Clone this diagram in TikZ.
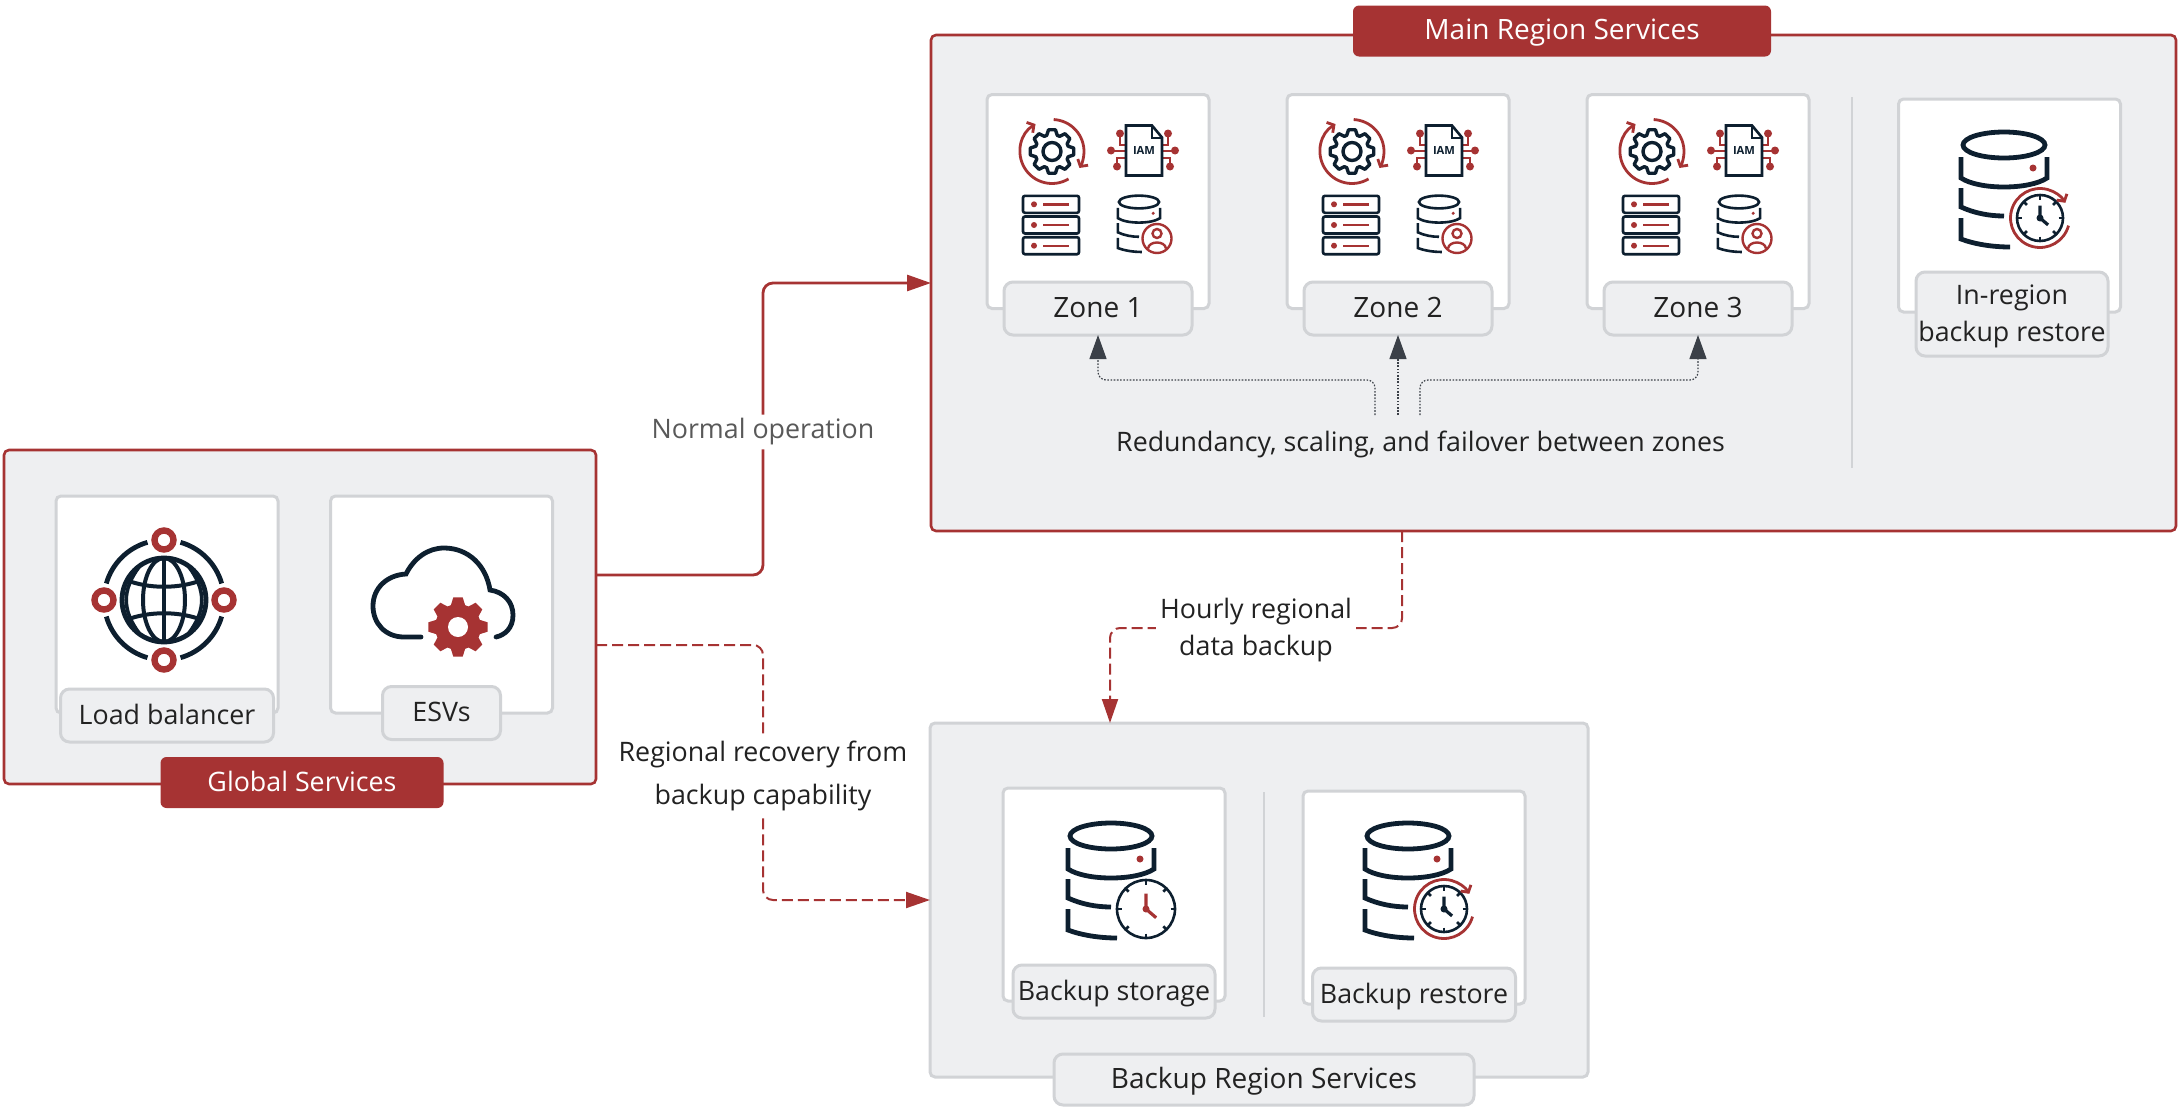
\documentclass[tikz,border=0pt]{standalone}
\usepackage{fontspec}
\setmainfont{Open Sans}
\usetikzlibrary{positioning,arrows.meta}
\definecolor{brick}{HTML}{A63333}
\definecolor{navy}{HTML}{0D1F2F}
\definecolor{panel}{HTML}{EEEFF1}
\definecolor{edgegrey}{HTML}{D1D3D6}
\definecolor{slate}{HTML}{3B4048}
\definecolor{ink}{HTML}{222222}
\newcommand{\lab}{\fontsize{13.4}{18.5}\selectfont}
\newcommand{\biglab}{\fontsize{14}{18.5}\selectfont}
% gear outline: root radius, tip radius
\newcommand{\gearteeth}[2]{(-18:#1) \foreach \a in {0,45,...,315} { -- (\a-18:#1) -- (\a-9:#2) -- (\a+9:#2) -- (\a+18:#1)} -- cycle}
\tikzset{
 every node/.style={outer sep=0pt,inner sep=0pt,text=ink,font=\lab},
 regionbox/.style={draw=brick,fill=panel,line width=1.3pt,rounded corners=2.5pt},
 backupbox/.style={draw=edgegrey,fill=panel,line width=1.5pt,rounded corners=2.5pt},
 card/.style={draw=edgegrey,fill=white,line width=1.5pt,rounded corners=2.5pt,minimum width=111pt,minimum height=107pt},
 tag/.style={draw=edgegrey,fill=panel,line width=1.5pt,rounded corners=4.5pt,minimum height=26.5pt,align=center},
 oneline/.style={text height=11pt,text depth=2.4pt},
 redtag/.style={fill=brick,rounded corners=3pt,minimum height=25.5pt,text=white,text height=11pt,text depth=2.4pt},
 divider/.style={fill=edgegrey,minimum width=1.3pt},
 edgelab/.style={fill=white,align=center,inner sep=2pt},
 redline/.style={draw=brick,line width=1.4pt,rounded corners=5pt,-{Triangle[length=12pt,width=8pt]}},
 reddash/.style={redline,line width=1pt,dash pattern=on 5.5pt off 2.5pt},
 dotline/.style={draw=slate,line width=.6pt,dash pattern=on .8pt off .8pt,rounded corners=4pt,-{Triangle[length=12pt,width=8.5pt]}},
 turnarc/.style={draw=brick,line width=1.4pt,-{Straight Barb[length=2.5pt,width=6pt]}},
 pics/gearicon/.style={code={
  \draw[navy,line width=1.7pt,line join=round] \gearteeth{17}{22};
  \draw[navy,line width=1.7pt] (0,0) circle (9);
  \draw[turnarc] (-87:32) arc[start angle=-87,end angle=31,radius=32];
  \draw[turnarc] (59:32) arc[start angle=59,end angle=239,radius=32];
 }},
 pics/iamicon/.style={code={
  \draw[brick,line width=1pt] (-24,-17) -- (-24,-6) -- (-18,-6);
  \draw[brick,line width=1pt] (-33,0) -- (-18,0);
  \draw[brick,line width=1pt] (-27,16) -- (-27,7) -- (-18,7);
  \draw[brick,line width=1pt] (24,-17) -- (24,-6) -- (18,-6);
  \draw[brick,line width=1pt] (31,0) -- (18,0);
  \draw[brick,line width=1pt] (26,16) -- (26,7) -- (18,7);
  \foreach \p in {(-24,-17),(-33,0),(-27,16),(24,-17),(31,0),(26,16)} \fill[brick] \p circle (4);
  \draw[navy,line width=1.3pt] (-18,-25) -- (8,-25) -- (18,-13) -- (18,25) -- (-18,25) -- cycle;
  \draw[navy,line width=1pt] (8,-25) -- (8,-13) -- (18,-13);
  \node[text=navy,font=\fontsize{5.6}{6}\selectfont\bfseries] (iam) at (0,0) {IAM};
 }},
 pics/servericon/.style={code={
  \foreach \r in {-20.7,0,20.7} {
   \draw[navy,line width=1.3pt,rounded corners=1pt] (-28,\r-8.5) rectangle (28,\r+8.5);
   \fill[brick] (-17,\r) circle (3);
   \draw[brick,line width=1.2pt] (-8,\r) -- (18,\r);
  }
 }},
 pics/dbicon/.style={code={
  \draw[navy] (0,0) ellipse [x radius=41,y radius=13];
  \draw[navy] (-43,12) -- (-43,33) .. controls (-25,45) and (25,45) .. (43,33) -- (43,12);
  \draw[navy] (-43,43) -- (-43,62) .. controls (-30,68) and (-15,71) .. (0,71);
  \draw[navy] (-43,73) -- (-43,94) .. controls (-30,99) and (-12,102) .. (6,102);
  \fill[brick] (29,23) circle (3.5);
 }},
 pics/personicon/.style={code={
  \draw[brick,line width=1.2pt,fill=white] (0,0) circle (14.5);
  \draw[brick,line width=1.2pt] (0,-5) circle (4.5);
  \draw[brick,line width=1.2pt] (-9,10) .. controls (-8,2) and (8,2) .. (9,10);
 }},
 pics/clockicon/.style 2 args={code={
  \draw[navy,line width=1.3pt,fill=white] (0,0) circle (#1);
  \foreach \a in {0,45,...,315} \draw[navy,line width=1.3pt] (\a:#1-4.5) -- (\a:#1);
  \draw[#2,line width=1.6pt] (0,-.5*#1-1) -- (0,0) -- (.35*#1,.3*#1);
  \fill[#2] (0,0) circle (3.5);
 }},
 pics/restoreicon/.style={code={
  \pic {clockicon={23}{navy}};
  \draw[turnarc] (15:29.5) arc[start angle=15,end angle=329,radius=29.5];
 }},
 pics/zoneicons/.style={code={
  \pic at (-46,-50) {gearicon};
  \pic at (46,-51) {iamicon};
  \pic at (-47,23.5) {servericon};
  \pic[scale=.49,line width=1.3pt] at (41,.5) {dbicon};
  \pic at (59,37) {personicon};
 }},
 pics/globeicon/.style={code={
  \draw[navy,line width=2.4pt] (0,0) circle (42);
  \draw[navy,line width=2pt] (0,0) ellipse [x radius=21,y radius=42];
  \draw[navy,line width=2pt] (0,-42) -- (0,42);
  \draw[navy,line width=2pt] (-38,-20) .. controls (-15,-11) and (15,-11) .. (38,-20);
  \draw[navy,line width=2pt] (-38,20) .. controls (-15,11) and (15,11) .. (38,20);
  \draw[navy,line width=1.8pt] (-25,-33) .. controls (-42,-10) and (-42,10) .. (-25,33);
  \draw[navy,line width=1.8pt] (25,-33) .. controls (42,-10) and (42,10) .. (25,33);
  \draw[navy,line width=2.4pt] (-74:60) arc[start angle=-74,end angle=-16,radius=60];
  \draw[navy,line width=2.4pt] (16:60) arc[start angle=16,end angle=74,radius=60];
  \draw[navy,line width=2.4pt] (106:60) arc[start angle=106,end angle=164,radius=60];
  \draw[navy,line width=2.4pt] (196:60) arc[start angle=196,end angle=254,radius=60];
  \foreach \a in {0,90,180,270} \draw[brick,line width=3.2pt] (\a:60) circle (9.5);
 }},
 pics/cloudicon/.style={code={
  \draw[navy,line width=2.4pt,line cap=round] (-23,37) -- (-40,37) .. controls (-59,37) and (-71,23) .. (-71,6)
   .. controls (-71,-12) and (-57,-25) .. (-38,-26) .. controls (-30,-42) and (-16,-52) .. (0,-52)
   .. controls (24,-52) and (42,-35) .. (46,-10) .. controls (60,-8) and (69,2) .. (69,15)
   .. controls (69,28) and (61,35) .. (52,37);
  \begin{scope}[shift={(14,27)}]
   \fill[white] (0,0) circle (34);
   \fill[brick] \gearteeth{23}{30};
   \fill[white] (0,0) circle (10);
  \end{scope}
 }}
}
\begin{document}
\begin{tikzpicture}[x=.5pt,y=-.5pt,on grid]
 \useasboundingbox (0,0) rectangle (2180,1114);
 % region boxes
 \node[regionbox,minimum width=296pt,minimum height=167pt] (globalbox) at (300,617) {};
 \node[regionbox,minimum width=622.5pt,minimum height=248pt] (mainbox) at (1553.5,283) {};
 \node[backupbox,minimum width=329pt,minimum height=177pt] (backbox) at (1259,900) {};
 % global services
 \node[card,minimum height=108.5pt] (lb) at (167,604.5) {};
 \node[card,minimum height=108.5pt] (esv) at (441.5,604.5) {};
 \pic at (164,600) {globeicon};
 \pic at (444,600) {cloudicon};
 \node[tag,oneline,minimum width=106.5pt] (lblab) [below=55.5pt of lb] {Load balancer};
 \node[tag,oneline,minimum width=59pt] (esvlab) [below=54.25pt of esv] {ESVs};
 \node[redtag,minimum width=141.5pt] (globaltitle) at (302,782.5) {Global Services};
 % main region
 \node[redtag,minimum width=209pt,font=\biglab] (maintitle) at (1562,31) {Main Region Services};
 \node[card] (z1) at (1098,201.5) {};
 \node[card] (z2) [right=150pt of z1] {};
 \node[card] (z3) [right=150pt of z2] {};
 \pic at (z1) {zoneicons};
 \pic at (z2) {zoneicons};
 \pic at (z3) {zoneicons};
 \node[tag,oneline,minimum width=94pt,font=\biglab] (z1lab) [below=53.5pt of z1] {Zone 1};
 \node[tag,oneline,minimum width=94pt,font=\biglab] (z2lab) [below=53.5pt of z2] {Zone 2};
 \node[tag,oneline,minimum width=94pt,font=\biglab] (z3lab) [below=53.5pt of z3] {Zone 3};
 \node[divider,minimum height=185.5pt] (maindiv) at (1852,282.5) {};
 \node[card,minimum height=106.5pt] (inreg) at (2009.5,205.5) {};
 \pic[line width=2.4pt] at (2004,145) {dbicon};
 \pic at (2040,218) {restoreicon};
 \node[tag,minimum width=96pt,minimum height=42pt,text depth=.6pt] (inreglab) at (2012,314) {In-region\\backup restore};
 \node (redun) at (1420.5,444) {Redundancy, scaling, and failover between zones};
 \coordinate (dot1) at (1375,415);
 \coordinate (dot2) at (1398,415);
 \coordinate (dot3) at (1420,415);
 % backup region
 \node[card,minimum height=106.5pt] (bstore) at (1114,894.5) {};
 \node[card,minimum height=106.5pt] (brest) at (1414,897.5) {};
 \pic[line width=2.4pt] at (1111,836) {dbicon};
 \pic at (1146,909) {clockicon={29}{brick}};
 \pic[line width=2.4pt] at (1408,836) {dbicon};
 \pic at (1444,909) {restoreicon};
 \node[tag,oneline,minimum width=101pt] (bstorelab) [below=48.5pt of bstore] {Backup storage};
 \node[tag,oneline,minimum width=101.5pt] (brestlab) [below=48.5pt of brest] {Backup restore};
 \node[divider,minimum height=112.5pt] (backdiv) at (1264,904.5) {};
 \node[tag,oneline,minimum width=210pt,minimum height=25.5pt,font=\biglab] (backtitle) at (1264,1079.5) {Backup Region Services};
 % connectors
 \draw[redline] ([yshift=21pt]globalbox.east) -| (763,432) node[edgelab,text=black!65] (normal) {Normal operation} |- (mainbox.west);
 \draw[reddash] ([yshift=-14pt]globalbox.east) -| (763,776) node[edgelab] (recovery) {Regional recovery from\\[3pt]backup capability} |- (backbox.west);
 \draw[reddash] ([xshift=-75.7pt]mainbox.south) |- (1256,628) node[edgelab,yshift=-1pt] (hourly) {Hourly regional\\data backup} -| ([xshift=-74.5pt]backbox.north);
 \draw[dotline] (dot1) -- ++(0,-35) -| (z1lab.south);
 \draw[dotline] (dot2) -- (z2lab.south);
 \draw[dotline] (dot3) -- ++(0,-35) -| (z3lab.south);
\end{tikzpicture}
\end{document}
